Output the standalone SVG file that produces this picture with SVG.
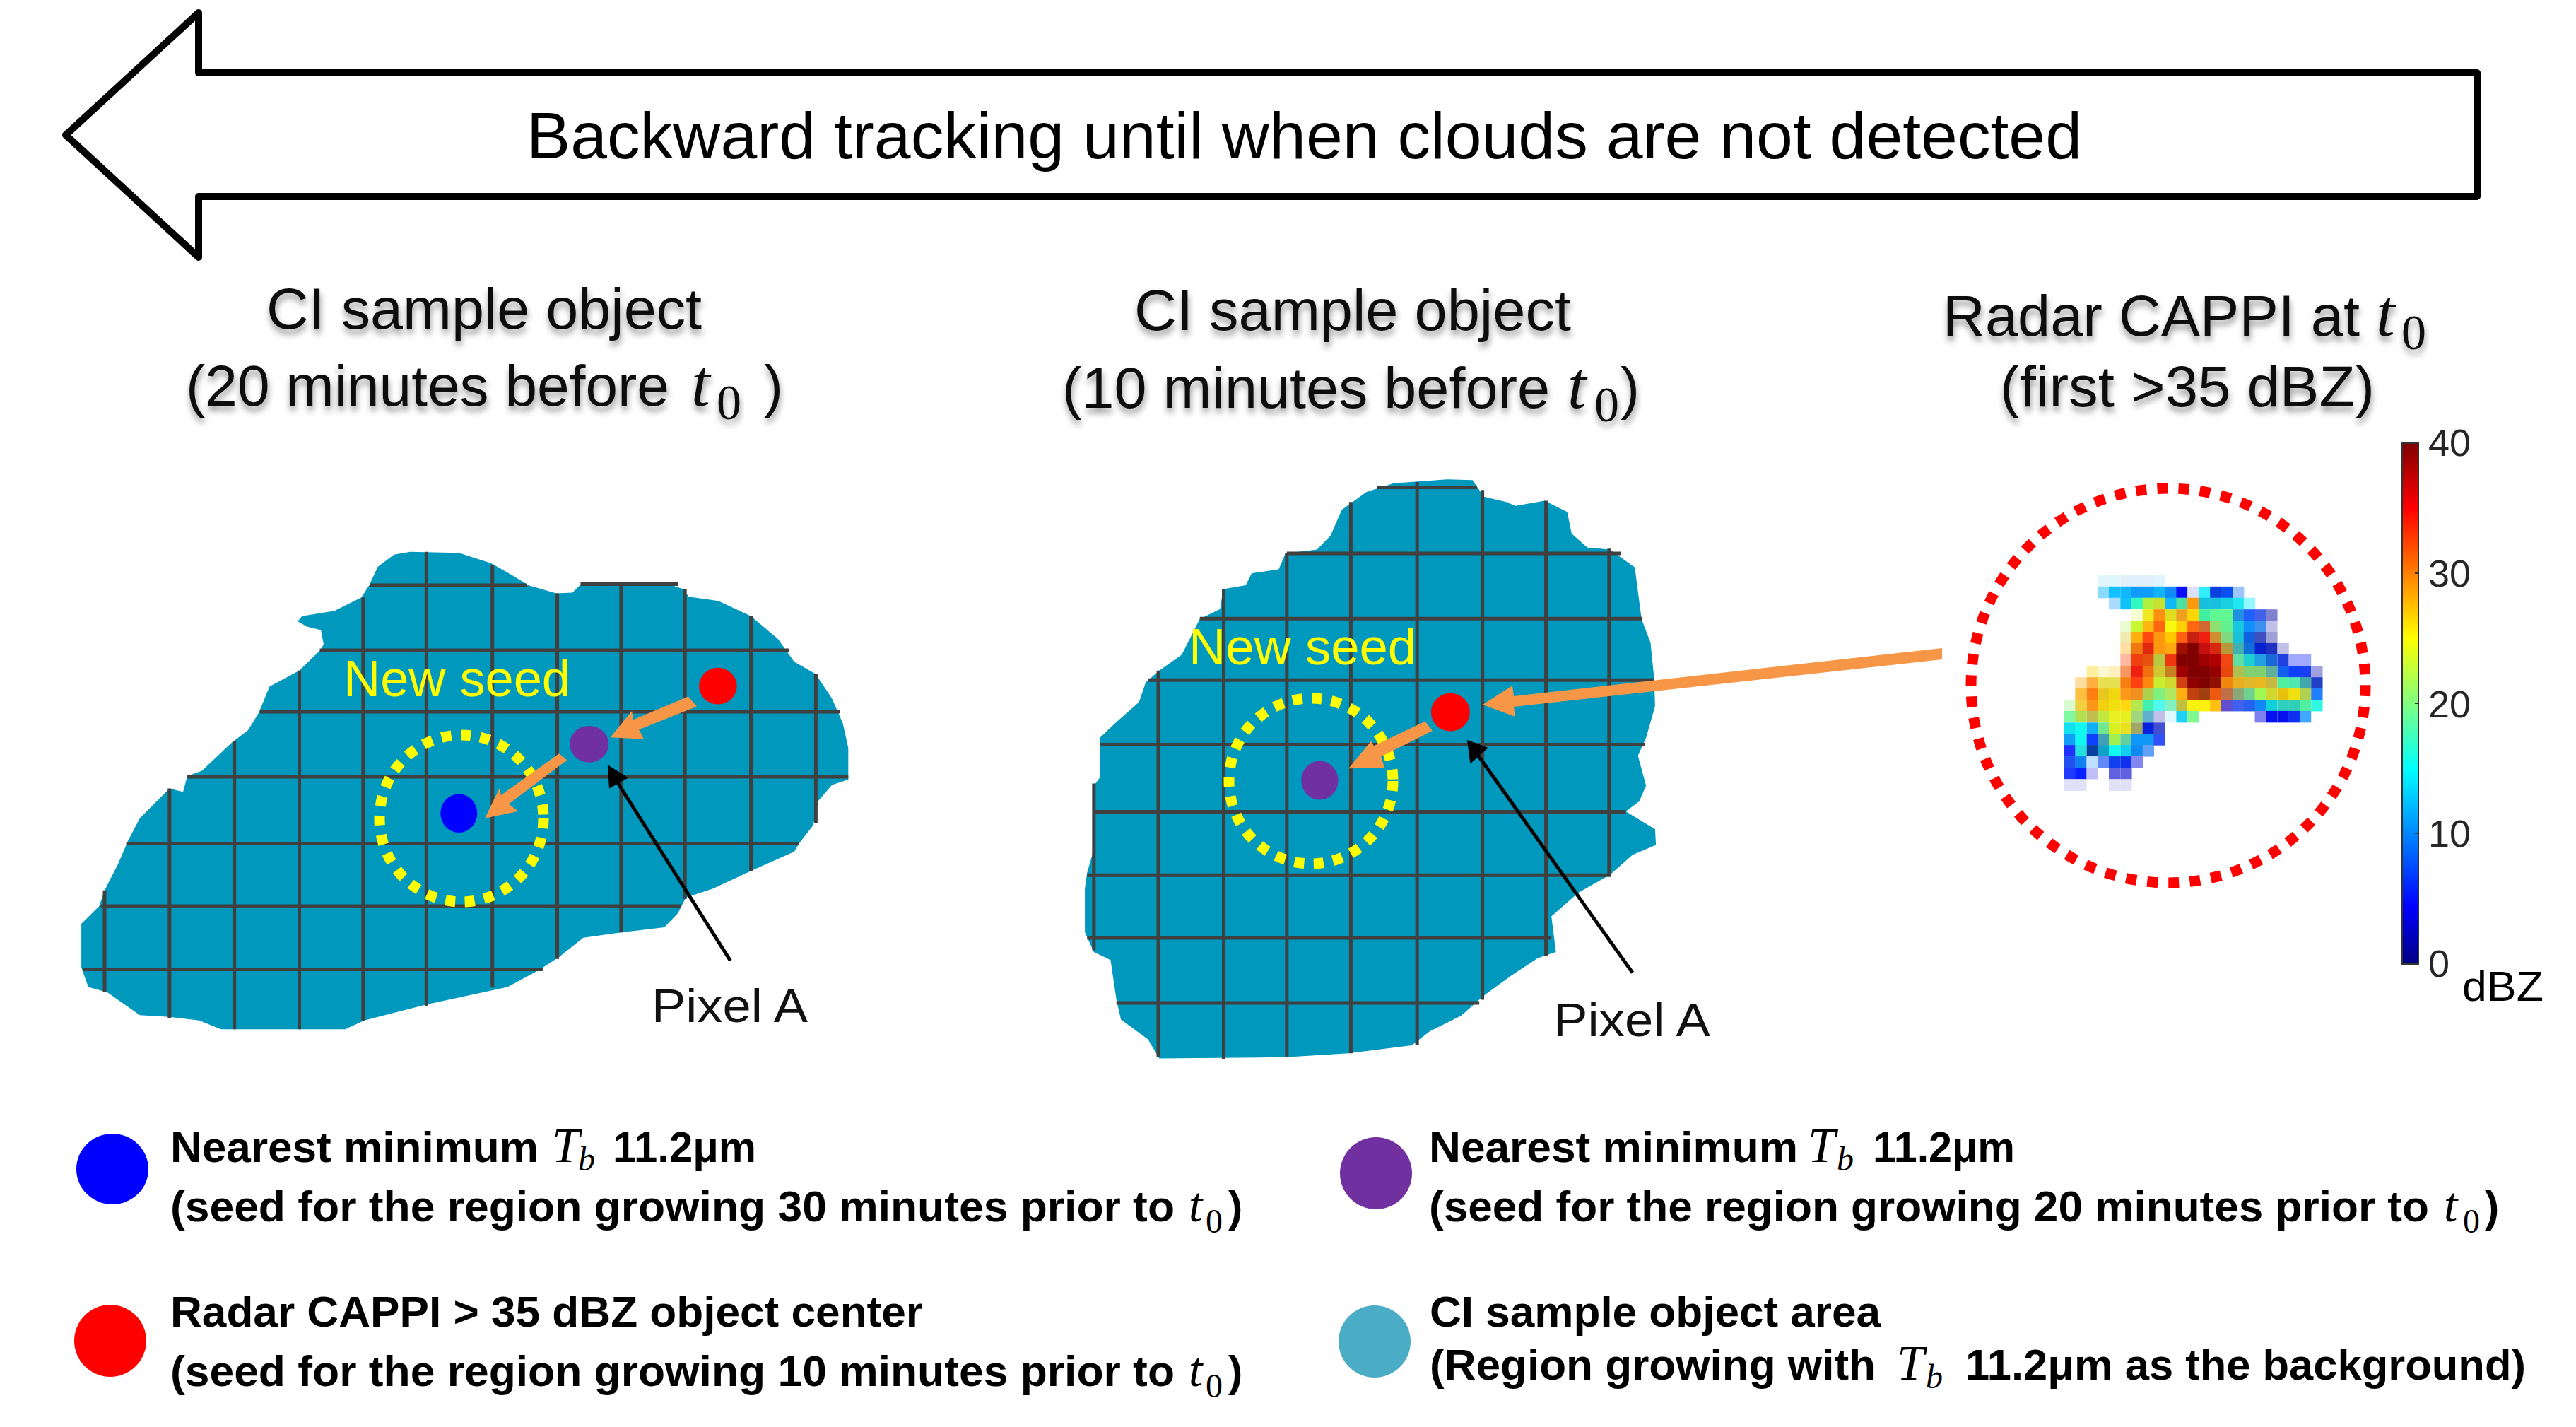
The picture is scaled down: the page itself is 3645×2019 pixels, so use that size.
<svg xmlns="http://www.w3.org/2000/svg" width="3645" height="2019" viewBox="0 0 3645 2019">
<style>
text{font-family:"Liberation Sans",Arial,sans-serif;fill:#000}
.ti{font-size:81px;fill:#111;filter:url(#ts)}
.lg{font-size:61px;font-weight:700}
.m{font-family:"Liberation Serif","Times New Roman",serif;font-style:italic;font-weight:400}
.z{font-family:"Liberation Serif","Times New Roman",serif;font-weight:400}
.bt{font-size:96px}
.ts{font-size:70px}
.lt{font-size:70px}
.ls{font-size:48px}
.px{font-size:67px;fill:#111}
.ns{font-size:72px;fill:#ffff00}
.cb{font-size:54px;fill:#262626}
.blob{fill:#0099bd}
.grid line{stroke:#404040;stroke-width:5;vector-effect:non-scaling-stroke}
.or{fill:#f79646}
.bk{stroke:#000;stroke-width:5;vector-effect:non-scaling-stroke;fill:none}
.hd{fill:#000}
.yd{fill:none;stroke:#ffff00;stroke-width:15;stroke-dasharray:14 13.5}
.heat rect{width:29px;height:30px}
</style>
<defs>
<filter id="ts" x="-10%" y="-30%" width="120%" height="170%"><feDropShadow dx="1" dy="7" stdDeviation="5" flood-color="#000" flood-opacity=".42"/></filter>
<linearGradient id="jet" x1="0" y1="1" x2="0" y2="0">
<stop offset="0" stop-color="#000080"/><stop offset=".11" stop-color="#0000ff"/><stop offset=".375" stop-color="#00ffff"/><stop offset=".625" stop-color="#ffff00"/><stop offset=".875" stop-color="#ff0000"/><stop offset="1" stop-color="#800000"/>
</linearGradient>
</defs>
<rect width="3645" height="2019" fill="#fff"/>

<g id="backward-arrow">
<path d="M93 191 281 18V103H3505V278H281V364Z" fill="#fff" stroke="#000" stroke-width="10" stroke-linejoin="round"/>
<text x="745" y="224" font-size="92" textLength="2201" lengthAdjust="spacingAndGlyphs">Backward tracking until when clouds are not detected</text>
</g>

<g id="title-20">
<text class="ti" x="377" y="465" textLength="616" lengthAdjust="spacingAndGlyphs">CI sample object</text>
<text class="ti" x="263" y="574" textLength="684" lengthAdjust="spacingAndGlyphs">(20 minutes before</text>
<text class="ti m bt" x="978" y="574">t</text><text class="ti z ts" x="1014" y="593">0</text>
<text class="ti" x="1081" y="574">)</text>
</g>
<g id="title-10">
<text class="ti" x="1605" y="467" textLength="618" lengthAdjust="spacingAndGlyphs">CI sample object</text>
<text class="ti" x="1503" y="577" textLength="690" lengthAdjust="spacingAndGlyphs">(10 minutes before</text>
<text class="ti m bt" x="2218" y="577">t</text><text class="ti z ts" x="2256" y="596">0</text>
<text class="ti" x="2293" y="577">)</text>
</g>
<g id="title-radar">
<text class="ti" x="2749" y="475" textLength="590" lengthAdjust="spacingAndGlyphs">Radar CAPPI at</text>
<text class="ti m bt" x="3362" y="475">t</text><text class="ti z ts" x="3398" y="494">0</text>
<text class="ti" x="2830" y="575" textLength="530" lengthAdjust="spacingAndGlyphs">(first &gt;35 dBZ)</text>
</g>

<g id="object-20">
<g transform="translate(60,720) scale(.7653,.4974)">
<path class="blob" d="M72 1180 105 1130 115 1085 140 1010 158 945 180 880 235 795 260 805 268 760 295 745 350 665 380 630 400 580 420 505 475 460 515 400 520 385 515 345 490 335 472 320 480 305 540 290 590 252 605 215 620 165 650 130 680 122 770 125 830 155 870 190 900 218 950 240 980 238 997 212 1150 210 1185 228 1195 250 1250 262 1310 305 1360 370 1390 435 1430 470 1460 540 1480 610 1490 680 1490 770 1460 785 1435 830 1425 900 1400 950 1390 975 1310 1030 1240 1080 1190 1105 1175 1150 1150 1190 1070 1205 1000 1220 955 1275 920 1310 860 1360 710 1410 595 1455 560 1480 330 1480 290 1455 235 1445 180 1440 120 1375 85 1360 72 1305Z"/>
<g class="grid">
<line x1="115" y1="1085" x2="115" y2="1375"/><line x1="235" y1="795" x2="235" y2="1448"/><line x1="355" y1="660" x2="355" y2="1480"/><line x1="475" y1="460" x2="475" y2="1480"/><line x1="593" y1="252" x2="593" y2="1455"/><line x1="710" y1="122" x2="710" y2="1415"/><line x1="832" y1="160" x2="832" y2="1360"/><line x1="952" y1="240" x2="952" y2="1280"/><line x1="1070" y1="218" x2="1070" y2="1205"/><line x1="1188" y1="228" x2="1188" y2="1110"/><line x1="1310" y1="305" x2="1310" y2="1030"/><line x1="1430" y1="470" x2="1430" y2="893"/>
<line x1="605" y1="217" x2="895" y2="217"/><line x1="995" y1="214" x2="1175" y2="214"/><line x1="513" y1="402" x2="1380" y2="402"/><line x1="402" y1="577" x2="1475" y2="577"/><line x1="268" y1="762" x2="1490" y2="762"/><line x1="155" y1="952" x2="1398" y2="952"/><line x1="108" y1="1130" x2="1180" y2="1130"/><line x1="75" y1="1310" x2="925" y2="1310"/>
</g>
</g>
<ellipse cx="653" cy="1158" rx="116" ry="118" class="yd"/>
<g transform="translate(60,720) scale(.7653,.4974)">
<ellipse cx="1249" cy="504" rx="35" ry="52" fill="#ff0000"/>
<ellipse cx="1011" cy="669" rx="36" ry="52" fill="#7030a0"/>
<ellipse cx="770" cy="866" rx="34" ry="55" fill="#0000ff"/>
</g>
<text class="ns" x="486" y="985" textLength="321" lengthAdjust="spacingAndGlyphs">New seed</text>
<text class="px" x="922" y="1446" textLength="221" lengthAdjust="spacingAndGlyphs">Pixel A</text>
</g>

<g id="object-10">
<g transform="translate(1500,640) scale(.6378,.5612)">
<path class="blob" d="M55 1100 60 1060 75 1000 75 840 88 820 88 720 125 680 175 630 190 580 220 550 270 510 310 420 355 395 362 345 412 335 425 305 485 295 500 255 570 245 600 210 625 145 680 100 740 78 860 68 915 70 930 95 940 112 990 125 1010 135 1075 122 1125 150 1135 205 1170 240 1220 245 1275 290 1290 420 1310 480 1318 570 1320 640 1300 720 1282 765 1300 840 1285 880 1255 905 1320 950 1322 990 1270 1015 1220 1065 1150 1110 1090 1170 1100 1260 1060 1275 1000 1320 940 1370 890 1420 820 1460 780 1495 640 1515 500 1525 220 1528 195 1480 135 1430 125 1380 112 1280 75 1260 55 1210Z"/>
<g class="grid">
<line x1="75" y1="835" x2="75" y2="1255"/><line x1="218" y1="550" x2="218" y2="1525"/><line x1="363" y1="345" x2="363" y2="1530"/><line x1="503" y1="255" x2="503" y2="1525"/><line x1="645" y1="125" x2="645" y2="1515"/><line x1="792" y1="75" x2="792" y2="1495"/><line x1="937" y1="95" x2="937" y2="1380"/><line x1="1078" y1="122" x2="1078" y2="1270"/><line x1="1218" y1="243" x2="1218" y2="1065"/>
<line x1="703" y1="88" x2="925" y2="88"/><line x1="503" y1="255" x2="1245" y2="255"/><line x1="310" y1="419" x2="1292" y2="419"/><line x1="195" y1="574" x2="1318" y2="574"/><line x1="88" y1="737" x2="1297" y2="737"/><line x1="75" y1="906" x2="1255" y2="906"/><line x1="60" y1="1066" x2="1222" y2="1066"/><line x1="60" y1="1224" x2="1090" y2="1224"/><line x1="125" y1="1388" x2="930" y2="1388"/>
</g>
</g>
<ellipse cx="1855" cy="1105" rx="116" ry="117" class="yd"/>
<g transform="translate(1500,640) scale(.6378,.5612)">
<ellipse cx="866" cy="655" rx="43" ry="48" fill="#ff0000"/>
<ellipse cx="576" cy="827" rx="41" ry="49" fill="#7030a0"/>
</g>
<text class="ns" x="1682" y="940" textLength="322" lengthAdjust="spacingAndGlyphs">New seed</text>
<text class="px" x="2198" y="1466" textLength="222" lengthAdjust="spacingAndGlyphs">Pixel A</text>
</g>

<g id="radar-cappi">
<g class="heat" transform="translate(2750,600) scale(.5612,.5485)">
<g transform="translate(0,390)"><rect x="389" fill="#dff6fc"/><rect x="417" fill="#dff6fc"/><rect x="446" fill="#e2f0fc"/><rect x="474" fill="#e2f0fc"/><rect x="502" fill="#e2f0fc"/><rect x="530" fill="#dff6fc"/></g>
<g transform="translate(0,419)"><rect x="389" fill="#8adcff"/><rect x="417" fill="#10c0ff"/><rect x="446" fill="#10b8ff"/><rect x="474" fill="#109cff"/><rect x="502" fill="#109cff"/><rect x="530" fill="#10b4ff"/><rect x="559" fill="#108cff"/><rect x="587" fill="#0a10ff"/><rect x="615" fill="#dde0fa"/><rect x="644" fill="#30f0ff"/><rect x="672" fill="#0a40e0"/><rect x="700" fill="#0a50f0"/><rect x="729" fill="#a0c4ff"/></g>
<g transform="translate(0,448)"><rect x="417" fill="#a8dcff"/><rect x="446" fill="#10c0f8"/><rect x="474" fill="#30f8c0"/><rect x="502" fill="#b0f040"/><rect x="530" fill="#c8e030"/><rect x="559" fill="#10b8f8"/><rect x="587" fill="#50e0a0"/><rect x="615" fill="#ff9a10"/><rect x="644" fill="#18c0e0"/><rect x="672" fill="#18c0e0"/><rect x="700" fill="#18d0e0"/><rect x="729" fill="#20e8f0"/><rect x="757" fill="#90f8ff"/></g>
<g transform="translate(0,478)"><rect x="474" fill="#f8ffd0"/><rect x="502" fill="#f0e820"/><rect x="530" fill="#ff9010"/><rect x="559" fill="#e0dc20"/><rect x="587" fill="#f0a020"/><rect x="615" fill="#ffd400"/><rect x="644" fill="#40f0a0"/><rect x="672" fill="#60f890"/><rect x="700" fill="#60f890"/><rect x="729" fill="#2090e0"/><rect x="757" fill="#2060ff"/><rect x="785" fill="#4060e8"/><rect x="813" fill="#8080d0"/></g>
<g transform="translate(0,507)"><rect x="446" fill="#e8fcd0"/><rect x="474" fill="#c8f830"/><rect x="502" fill="#ffb810"/><rect x="530" fill="#ff6810"/><rect x="559" fill="#f8f810"/><rect x="587" fill="#ffd000"/><rect x="615" fill="#ff6810"/><rect x="644" fill="#d06830"/><rect x="672" fill="#90e070"/><rect x="700" fill="#60f090"/><rect x="729" fill="#18c8e0"/><rect x="757" fill="#1090ff"/><rect x="785" fill="#4090f0"/><rect x="813" fill="#c0c0e8"/></g>
<g transform="translate(0,536)"><rect x="446" fill="#f0eab0"/><rect x="474" fill="#ffb010"/><rect x="502" fill="#ff4810"/><rect x="530" fill="#ff9810"/><rect x="559" fill="#ffc800"/><rect x="587" fill="#ff6010"/><rect x="615" fill="#c82010"/><rect x="644" fill="#f02010"/><rect x="672" fill="#d09030"/><rect x="700" fill="#80d880"/><rect x="729" fill="#18c0d8"/><rect x="757" fill="#1060e0"/><rect x="785" fill="#4050c0"/><rect x="813" fill="#a0a0d8"/></g>
<g transform="translate(0,565)"><rect x="446" fill="#ffe0a0"/><rect x="474" fill="#f07810"/><rect x="502" fill="#e02810"/><rect x="530" fill="#ff9810"/><rect x="559" fill="#ffa810"/><rect x="587" fill="#a01000"/><rect x="615" fill="#800000"/><rect x="644" fill="#c81010"/><rect x="672" fill="#d82810"/><rect x="700" fill="#b89838"/><rect x="729" fill="#40b0b0"/><rect x="757" fill="#1070d8"/><rect x="785" fill="#0820d0"/><rect x="813" fill="#2030c0"/><rect x="842" fill="#c0c0e8"/></g>
<g transform="translate(0,594)"><rect x="446" fill="#ffb8a0"/><rect x="474" fill="#f04010"/><rect x="502" fill="#e85010"/><rect x="530" fill="#b8c840"/><rect x="559" fill="#f03810"/><rect x="587" fill="#800000"/><rect x="615" fill="#800000"/><rect x="644" fill="#a00000"/><rect x="672" fill="#b00000"/><rect x="700" fill="#f04810"/><rect x="729" fill="#60e0a0"/><rect x="757" fill="#20d0d0"/><rect x="785" fill="#20a0e0"/><rect x="813" fill="#1868d8"/><rect x="842" fill="#2040e0"/><rect x="870" fill="#a0a8ff"/><rect x="898" fill="#a0a8ff"/></g>
<g transform="translate(0,624)"><rect x="361" fill="#fff0a0"/><rect x="389" fill="#fff8d0"/><rect x="417" fill="#fff0c0"/><rect x="446" fill="#f89860"/><rect x="474" fill="#f02010"/><rect x="502" fill="#f07010"/><rect x="530" fill="#d0c830"/><rect x="559" fill="#c88020"/><rect x="587" fill="#a00000"/><rect x="615" fill="#800000"/><rect x="644" fill="#800000"/><rect x="672" fill="#980000"/><rect x="700" fill="#e84810"/><rect x="729" fill="#b0c050"/><rect x="757" fill="#80d070"/><rect x="785" fill="#80d070"/><rect x="813" fill="#60b098"/><rect x="842" fill="#1060f0"/><rect x="870" fill="#1040ff"/><rect x="898" fill="#1840f0"/><rect x="927" fill="#a0a0e0"/></g>
<g transform="translate(0,653)"><rect x="332" fill="#ffdca0"/><rect x="361" fill="#ffb040"/><rect x="389" fill="#e8e050"/><rect x="417" fill="#e8e050"/><rect x="446" fill="#f88010"/><rect x="474" fill="#ff4010"/><rect x="502" fill="#ff8810"/><rect x="530" fill="#c8f030"/><rect x="559" fill="#d0d830"/><rect x="587" fill="#d04010"/><rect x="615" fill="#900000"/><rect x="644" fill="#800000"/><rect x="672" fill="#901000"/><rect x="700" fill="#f08810"/><rect x="729" fill="#e8b020"/><rect x="757" fill="#e0b828"/><rect x="785" fill="#e8b820"/><rect x="813" fill="#c8b840"/><rect x="842" fill="#50f0a0"/><rect x="870" fill="#50e8b0"/><rect x="898" fill="#40a8a8"/><rect x="927" fill="#2040c8"/></g>
<g transform="translate(0,682)"><rect x="332" fill="#ffc040"/><rect x="361" fill="#ff8010"/><rect x="389" fill="#e8c820"/><rect x="417" fill="#f0d810"/><rect x="446" fill="#ff9818"/><rect x="474" fill="#f09020"/><rect x="502" fill="#b0d050"/><rect x="530" fill="#80f080"/><rect x="559" fill="#b0e860"/><rect x="587" fill="#ffb010"/><rect x="615" fill="#c04010"/><rect x="644" fill="#a04010"/><rect x="672" fill="#f05810"/><rect x="700" fill="#c07048"/><rect x="729" fill="#88a878"/><rect x="757" fill="#70d090"/><rect x="785" fill="#a0f850"/><rect x="813" fill="#d0d830"/><rect x="842" fill="#e8c010"/><rect x="870" fill="#f0e010"/><rect x="898" fill="#b0d050"/><rect x="927" fill="#2080ff"/></g>
<g transform="translate(0,711)"><rect x="304" fill="#d8fcd0"/><rect x="332" fill="#f0d040"/><rect x="361" fill="#ff9818"/><rect x="389" fill="#f0d010"/><rect x="417" fill="#f0e010"/><rect x="446" fill="#ffd810"/><rect x="474" fill="#b8e850"/><rect x="502" fill="#40f0b0"/><rect x="530" fill="#50f8f0"/><rect x="559" fill="#80f0c0"/><rect x="587" fill="#c0c040"/><rect x="615" fill="#f8f010"/><rect x="644" fill="#fff010"/><rect x="672" fill="#ffc010"/><rect x="700" fill="#6050d0"/><rect x="729" fill="#4060f0"/><rect x="757" fill="#2860f0"/><rect x="785" fill="#1088f8"/><rect x="813" fill="#10d0d8"/><rect x="842" fill="#30d0c0"/><rect x="870" fill="#30d0b8"/><rect x="898" fill="#50f0a0"/><rect x="927" fill="#30f8e0"/></g>
<g transform="translate(0,740)"><rect x="304" fill="#80f8a0"/><rect x="332" fill="#b0e050"/><rect x="361" fill="#c0c050"/><rect x="389" fill="#c0e840"/><rect x="417" fill="#e8f020"/><rect x="446" fill="#e8f020"/><rect x="474" fill="#a0d880"/><rect x="502" fill="#60b0d0"/><rect x="530" fill="#c0c0e8"/><rect x="559" fill="#e0f8ff"/><rect x="587" fill="#20d0f8"/><rect x="615" fill="#80f890"/><rect x="785" fill="#8080f0"/><rect x="813" fill="#0810f0"/><rect x="842" fill="#0810f0"/><rect x="870" fill="#1030f0"/><rect x="898" fill="#40a8ff"/></g>
<g transform="translate(0,770)"><rect x="304" fill="#10e0f0"/><rect x="332" fill="#10f8f0"/><rect x="361" fill="#10b0f8"/><rect x="389" fill="#70e890"/><rect x="417" fill="#d8f020"/><rect x="446" fill="#e8e020"/><rect x="474" fill="#a0a868"/><rect x="502" fill="#0820e0"/><rect x="530" fill="#4050d0"/></g>
<g transform="translate(0,799)"><rect x="304" fill="#10a0f8"/><rect x="332" fill="#10f8f0"/><rect x="361" fill="#1040ff"/><rect x="389" fill="#40a0b8"/><rect x="417" fill="#a0f050"/><rect x="446" fill="#60d0a0"/><rect x="474" fill="#1098f8"/><rect x="502" fill="#1098f8"/><rect x="530" fill="#3050f8"/></g>
<g transform="translate(0,828)"><rect x="304" fill="#2030ff"/><rect x="332" fill="#20e0e0"/><rect x="361" fill="#0840a0"/><rect x="389" fill="#10a0c8"/><rect x="417" fill="#10f8f0"/><rect x="446" fill="#10d0f0"/><rect x="474" fill="#1088f0"/><rect x="502" fill="#60a0f8"/></g>
<g transform="translate(0,857)"><rect x="304" fill="#2050f0"/><rect x="332" fill="#1080f0"/><rect x="361" fill="#c0e0ff"/><rect x="389" fill="#6088f8"/><rect x="417" fill="#1040f0"/><rect x="446" fill="#1030f0"/><rect x="474" fill="#8088f0"/></g>
<g transform="translate(0,886)"><rect x="304" fill="#2038ff"/><rect x="332" fill="#0820ff"/><rect x="361" fill="#c0c0f8"/><rect x="417" fill="#6060e0"/><rect x="446" fill="#6060e0"/></g>
<g transform="translate(0,916)"><rect x="304" fill="#e0e0f8"/><rect x="332" fill="#e0e0f8"/><rect x="417" fill="#e0e0f8"/><rect x="446" fill="#e0e0f8"/></g>
</g>
<circle cx="3068" cy="970" r="279" fill="none" stroke="#ff0000" stroke-width="15" stroke-dasharray="15 15.2"/>
</g>

<g id="colorbar">
<rect x="3399" y="627" width="23" height="737" fill="url(#jet)" stroke="#333" stroke-width="2"/>
<path d="M3417 811h5M3417 995h5M3417 1179h5" stroke="#333" stroke-width="2"/>
<text class="cb" x="3436" y="645">40</text>
<text class="cb" x="3436" y="830">30</text>
<text class="cb" x="3436" y="1015">20</text>
<text class="cb" x="3436" y="1198">10</text>
<text class="cb" x="3436" y="1382">0</text>
<text x="3484" y="1416" font-size="59" fill="#111" textLength="115" lengthAdjust="spacingAndGlyphs">dBZ</text>
</g>

<g id="connectors">
<polygon class="or" transform="translate(60,720) scale(.7653,.4974)" points="1194,534 1210,562 1103,628 1112,655 1050,650 1090,575 1092,600"/>
<polygon class="or" transform="translate(60,720) scale(.7653,.4974)" points="955,696 970,714 862,840 880,860 818,880 845,795 848,814"/>
<polygon class="or" transform="translate(1500,640) scale(.6378,.5612)" points="810,678 826,702 712,767 720,795 640,797 690,728 696,740"/>
<polygon class="or" points="2748,917 2748,933 2142,1000 2144,1014 2098,997 2140,970 2142,985"/>
<g transform="translate(60,720) scale(.7653,.4974)">
<line class="bk" x1="1272" y1="1285" x2="1062" y2="775"/>
<polygon class="hd" points="1045,728 1083,765 1048,795"/>
</g>
<g transform="translate(1500,640) scale(.6378,.5612)">
<line class="bk" x1="1270" y1="1312" x2="928" y2="765"/>
<polygon class="hd" points="903,725 950,745 910,785"/>
</g>
</g>

<g id="legend-blue">
<ellipse cx="159" cy="1654" rx="51" ry="50" fill="#0000ff"/>
<text class="lg" x="241" y="1644" textLength="521" lengthAdjust="spacingAndGlyphs">Nearest minimum</text>
<text class="lg m lt" x="781" y="1644">T</text><text class="lg m ls" x="818" y="1656">b</text>
<text class="lg" x="867" y="1644" textLength="203" lengthAdjust="spacingAndGlyphs">11.2μm</text>
<text class="lg" x="241" y="1728" textLength="1421" lengthAdjust="spacingAndGlyphs">(seed for the region growing 30 minutes prior to</text>
<text class="lg m lt" x="1682" y="1728">t</text><text class="lg z ls" x="1706" y="1744">0</text>
<text class="lg" x="1738" y="1728">)</text>
</g>
<g id="legend-red">
<ellipse cx="156" cy="1897" rx="51" ry="51" fill="#ff0000"/>
<text class="lg" x="241" y="1877" textLength="1065" lengthAdjust="spacingAndGlyphs">Radar CAPPI &gt; 35 dBZ object center</text>
<text class="lg" x="241" y="1961" textLength="1421" lengthAdjust="spacingAndGlyphs">(seed for the region growing 10 minutes prior to</text>
<text class="lg m lt" x="1682" y="1961">t</text><text class="lg z ls" x="1706" y="1977">0</text>
<text class="lg" x="1738" y="1961">)</text>
</g>
<g id="legend-purple">
<ellipse cx="1947" cy="1660" rx="51" ry="51" fill="#7030a0"/>
<text class="lg" x="2022" y="1644" textLength="522" lengthAdjust="spacingAndGlyphs">Nearest minimum</text>
<text class="lg m lt" x="2558" y="1644">T</text><text class="lg m ls" x="2599" y="1656">b</text>
<text class="lg" x="2650" y="1644" textLength="201" lengthAdjust="spacingAndGlyphs">11.2μm</text>
<text class="lg" x="2022" y="1728" textLength="1415" lengthAdjust="spacingAndGlyphs">(seed for the region growing 20 minutes prior to</text>
<text class="lg m lt" x="3458" y="1728">t</text><text class="lg z ls" x="3485" y="1744">0</text>
<text class="lg" x="3516" y="1728">)</text>
</g>
<g id="legend-teal">
<ellipse cx="1945" cy="1898" rx="51" ry="51" fill="#4bacc6"/>
<text class="lg" x="2023" y="1877" textLength="638" lengthAdjust="spacingAndGlyphs">CI sample object area</text>
<text class="lg" x="2023" y="1952" textLength="631" lengthAdjust="spacingAndGlyphs">(Region growing with</text>
<text class="lg m lt" x="2684" y="1952">T</text><text class="lg m ls" x="2725" y="1964">b</text>
<text class="lg" x="2781" y="1952" textLength="793" lengthAdjust="spacingAndGlyphs">11.2μm as the background)</text>
</g>
</svg>
